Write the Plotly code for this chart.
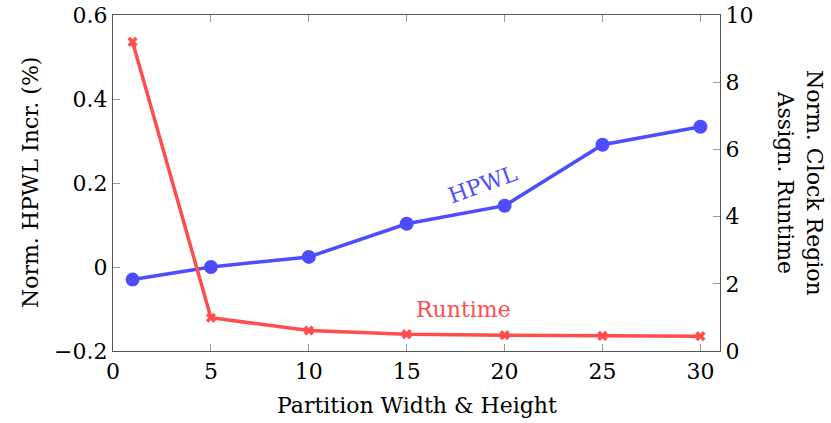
import plotly.graph_objects as go

partition = [1, 5, 10, 15, 20, 25, 30]
hpwl_incr = [-0.030, 0.000, 0.024, 0.103, 0.146, 0.291, 0.334]
runtime = [9.20, 0.99, 0.61, 0.50, 0.47, 0.45, 0.44]

x_ticks = [0, 5, 10, 15, 20, 25, 30]
y1_ticks = [-0.2, 0, 0.2, 0.4, 0.6]
y1_labels = ["\u22120.2", "0", "0.2", "0.4", "0.6"]
y2_ticks = [0, 2, 4, 6, 8, 10]

BLUE = "#4d4dff"
RED = "#ff4d4d"
FONT = "DejaVu Serif"
FS = 22

fig = go.Figure()
fig.add_trace(go.Scatter(
    x=partition, y=hpwl_incr, mode="lines+markers", name="HPWL",
    line=dict(color=BLUE, width=3.5),
    marker=dict(symbol="circle", size=14, color=BLUE),
    yaxis="y", showlegend=False))
fig.add_trace(go.Scatter(
    x=partition, y=runtime, mode="lines+markers", name="Runtime",
    line=dict(color=RED, width=3.5),
    marker=dict(symbol="x", size=9, color=RED),
    yaxis="y2", showlegend=False))

axis_common = dict(showgrid=False, zeroline=False, showline=True, automargin=False,
                   linecolor="#555", linewidth=1.2, ticklabeloverflow="allow",
                   ticks="inside", ticklen=7, tickcolor="#999", tickwidth=1.2,
                   tickfont=dict(family=FONT, size=FS, color="black"))

fig.update_layout(
    width=831, height=423,
    margin=dict(l=113, r=111, t=15, b=72, autoexpand=False),
    paper_bgcolor="white", plot_bgcolor="white",
    font=dict(family=FONT, size=FS, color="black"),
    xaxis=dict(range=[0, 31], tickvals=x_ticks, mirror="ticks", **axis_common),
    yaxis=dict(range=[-0.2, 0.6], tickvals=y1_ticks, ticktext=y1_labels, **axis_common),
    yaxis2=dict(range=[0, 10], tickvals=y2_ticks, overlaying="y", side="right", **axis_common),
    annotations=[
        dict(text="Partition Width &amp; Height", xref="paper", yref="paper",
             x=0.5, y=0, yshift=-54, showarrow=False, yanchor="middle",
             font=dict(family=FONT, size=FS)),
        dict(text="Norm. HPWL Incr. (%)", xref="paper", yref="paper",
             x=0, xshift=-83, y=0.5, showarrow=False, textangle=-90, xanchor="center",
             font=dict(family=FONT, size=FS)),
        dict(text="Norm. Clock Region<br>Assign. Runtime", xref="paper", yref="paper",
             x=1, xshift=80, y=0.5, showarrow=False, textangle=90, xanchor="center",
             font=dict(family=FONT, size=FS)),
        dict(text="HPWL", x=18.9, y=0.197, xref="x", yref="y", showarrow=False,
             textangle=-20, font=dict(family=FONT, size=FS, color=BLUE)),
        dict(text="Runtime", x=17.9, y=1.25, xref="x", yref="y2", showarrow=False,
             font=dict(family=FONT, size=FS, color=RED)),
    ],
)

fig.write_html("out.html", config={"displayModeBar": False},
               post_script="document.body.style.margin='0';document.body.style.overflow='hidden';")
